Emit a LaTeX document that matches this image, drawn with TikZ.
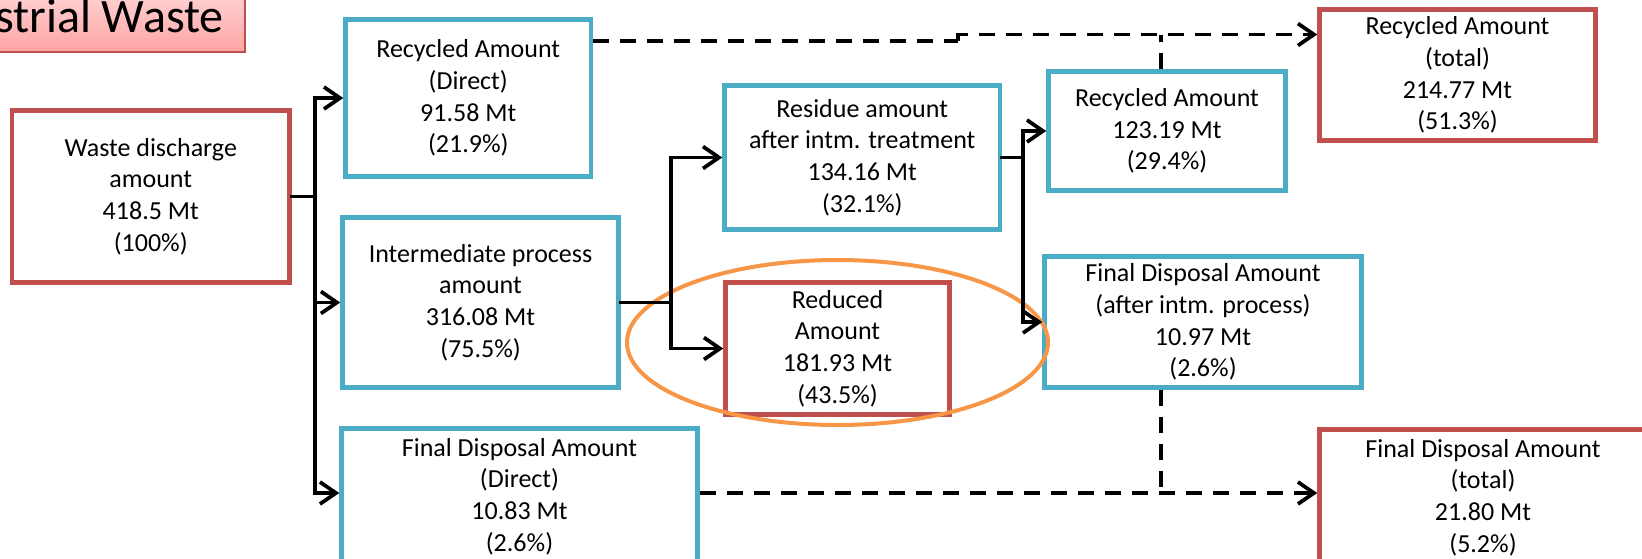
\documentclass[tikz,border=0pt]{standalone}
\usepackage{fontspec}
\setmainfont{Carlito}
\usetikzlibrary{arrows.meta,shapes.geometric}
\definecolor{boxblue}{HTML}{4BACC6}
\definecolor{boxred}{HTML}{C0504D}
\definecolor{ringorange}{HTML}{F79646}
\definecolor{titletop}{HTML}{FFD4D4}
\definecolor{titlebot}{HTML}{FFA3A3}

\begin{document}
\begin{tikzpicture}[x=1pt,y=-1pt,
  box/.style={draw, line width=4.5pt, fill=white, align=center, inner sep=0pt,
    font=\fontsize{26}{31.7}\selectfont, text=black},
  bluebox/.style={box, draw=boxblue},
  redbox/.style={box, draw=boxred},
  link/.style={line width=3.75pt, black, line cap=rect},
  arr/.style={link, -{Straight Barb[length=16pt,width=22pt]}},
  dlink/.style={line width=3.75pt, black, dash pattern=on 16pt off 11pt},
  darr/.style={dlink, -{Straight Barb[length=16pt,width=22pt]}},
]
\useasboundingbox (0,0) rectangle (1642,558);
\clip (0,0) rectangle (1642,558);

% heading
\node[draw=boxred, line width=1.5pt, top color=titletop, bottom color=titlebot,
  anchor=base east, inner xsep=21pt, inner ysep=0pt, text height=40pt, text depth=20pt,
  font=\fontsize{48}{57}\selectfont] (title) at (245.5,32) {Industrial Waste};

% boxes
\node[redbox, minimum width=277.5pt, minimum height=172pt] (waste) at (150.75,196.5)
  {Waste discharge\\amount\\418.5 Mt\\(100\%)};
\node[bluebox, minimum width=245.5pt, minimum height=157pt] (recD) at (468.25,98)
  {Recycled Amount\\(Direct)\\91.58 Mt\\(21.9\%)};
\node[bluebox, minimum width=276pt, minimum height=170pt] (inter) at (480.5,302.5)
  {Intermediate process\\amount\\316.08 Mt\\(75.5\%)};
\node[bluebox, minimum width=356pt, minimum height=136pt] (finD) at (519.5,496.5)
  {Final Disposal Amount\\(Direct)\\10.83 Mt\\(2.6\%)};
\node[bluebox, minimum width=275.5pt, minimum height=144pt] (resid) at (862.25,157.5)
  {Residue amount\\after intm. treatment\\134.16 Mt\\(32.1\%)};
\node[redbox, minimum width=224pt, minimum height=132pt] (reduc) at (837.5,348.5)
  {Reduced\\Amount\\181.93 Mt\\(43.5\%)};
\node[bluebox, minimum width=237pt, minimum height=119pt] (rec2) at (1167,131)
  {Recycled Amount\\123.19 Mt\\(29.4\%)};
\node[redbox, minimum width=276pt, minimum height=131pt] (recT) at (1457.5,75)
  {Recycled Amount\\(total)\\214.77 Mt\\(51.3\%)};
\node[bluebox, minimum width=317pt, minimum height=131pt] (finA) at (1203,322)
  {Final Disposal Amount\\(after intm. process)\\10.97 Mt\\(2.6\%)};
\node[redbox, minimum width=327pt, minimum height=136pt] (finT) at (1483,497.5)
  {Final Disposal Amount\\(total)\\21.80 Mt\\(5.2\%)};

% highlight ring
\node[draw=ringorange, line width=4pt, ellipse, inner sep=0pt,
  minimum width=421pt, minimum height=165pt] (ring) at (837.5,342.5) {};

% split of the discharge
\coordinate (j1) at (315,196.5);
\coordinate (busTop) at (315,98);
\coordinate (busBot) at (315,493);
\draw[link] (waste.east) -- (j1);
\draw[arr] (j1) -- (busTop) -- (recD.west |- busTop);
\draw[arr] (j1) -- (busBot) -- (finD.west |- busBot);
\draw[arr] (j1 |- inter.west) -- (inter.west);

% intermediate treatment
\coordinate (j2) at (671,302.5);
\draw[link] (inter.east) -- (j2);
\draw[arr] (j2) -- (j2 |- resid.west) -- (resid.west);
\draw[arr] (j2) -- (j2 |- reduc.west) -- (reduc.west);

% residue
\coordinate (j3) at (1023,157.5);
\draw[link] (resid.east) -- (j3);
\draw[arr] (j3) -- (j3 |- rec2.west) -- (rec2.west);
\draw[arr] (j3) -- (j3 |- finA.west) -- (finA.west);

% totals
\coordinate (d1) at (958,40.7);
\coordinate (d2) at (958,34.5);
\draw[dlink] (recD.east |- d1) -- (d1);
\draw[darr] (d1) -- (d2) -- (recT.west |- d2);
\draw[dlink] ([xshift=-6pt]rec2.north) -- ([xshift=-6pt]rec2.north |- d2);

\coordinate (d3) at (1161,493);
\draw[darr] (finD.east |- d3) -- (finT.west |- d3);
\draw[dlink] ([xshift=-42pt]finA.south) -- (d3);
\end{tikzpicture}
\end{document}
